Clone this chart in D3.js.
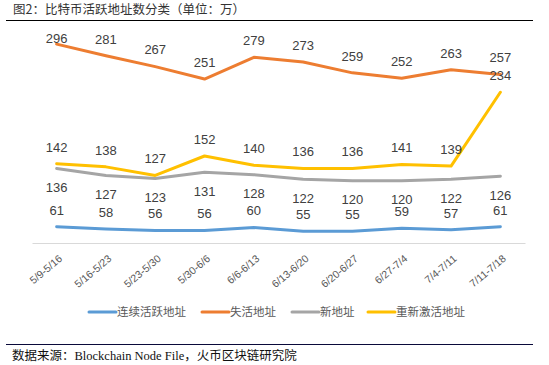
<!DOCTYPE html>
<html>
  <head>
    <meta charset="utf-8">
    <script src="https://cdn.jsdelivr.net/npm/d3@7"></script>
    <title>比特币活跃地址数分类</title>
    <style>
      body { margin: 0; background: #fff; }
      svg { display: block; }
    </style>
  </head>
  <body>
    <svg width="549" height="365" id="chart"></svg>
    <script>
      // data
      var weeks = ["5/9-5/16", "5/16-5/23", "5/23-5/30", "5/30-6/6", "6/6-6/13",
                   "6/13-6/20", "6/20-6/27", "6/27-7/4", "7/4-7/11", "7/11-7/18"];
      var seriesNames = ["连续活跃地址", "失活地址", "新地址", "重新激活地址"];
      var continuous = [61, 58, 56, 56, 60, 55, 55, 59, 57, 61];
      var inactive   = [296, 281, 267, 251, 279, 273, 259, 252, 263, 257];
      var newAddr    = [136, 127, 123, 131, 128, 122, 120, 120, 122, 126];
      var reactivated = [142, 138, 127, 152, 140, 136, 136, 141, 139, 234];
      var colors = ["#5B9BD5", "#ED7D31", "#A5A5A5", "#FFC000"];

      var series = [
        { name: seriesNames[0], values: continuous, color: colors[0], pos: "above" },
        { name: seriesNames[1], values: inactive, color: colors[1], pos: "above" },
        { name: seriesNames[2], values: newAddr, color: colors[2], pos: "below" },
        { name: seriesNames[3], values: reactivated, color: colors[3], pos: "above" }
      ];

      var svg = d3.select("#chart");

      // title + rules
      svg.append("text")
        .attr("x", 13).attr("y", 14)
        .attr("font-family", "'Noto Sans CJK SC', sans-serif")
        .attr("font-size", 12.5)
        .attr("fill", "#333")
        .text("图2：比特币活跃地址数分类（单位：万）");
      svg.append("line")
        .attr("x1", 6).attr("x2", 533).attr("y1", 20.5).attr("y2", 20.5)
        .attr("stroke", "#000").attr("stroke-width", 1.2);
      svg.append("line")
        .attr("x1", 6).attr("x2", 533).attr("y1", 344.5).attr("y2", 344.5)
        .attr("stroke", "#0a0a3a").attr("stroke-width", 1.2);
      svg.append("text")
        .attr("x", 12).attr("y", 360)
        .attr("font-family", "'Liberation Serif', 'Noto Sans CJK SC', serif")
        .attr("font-size", 12.5)
        .attr("fill", "#111")
        .text("数据来源：Blockchain Node File，火币区块链研究院");

      var x = d3.scaleBand().domain(weeks).range([32, 525]);
      var y = d3.scaleLinear().domain([40, 300]).range([243, 41]);
      var cx = function (d, i) { return x(weeks[i]) + x.bandwidth() / 2; };

      // x axis
      var xAxis = svg.append("g")
        .attr("transform", "translate(0,243)")
        .call(d3.axisBottom(x).tickSize(0).tickPadding(0));
      xAxis.select(".domain").attr("stroke", "#D9D9D9");
      xAxis.selectAll("text")
        .attr("font-family", "'Liberation Sans', Arial, sans-serif")
        .attr("font-size", 10.5)
        .attr("fill", "#595959")
        .attr("text-anchor", "end")
        .attr("transform", "translate(4,14) rotate(-40)")
        .attr("dy", "0.35em");

      var line = d3.line().x(cx).y(function (d) { return y(d); });

      series.forEach(function (s) {
        svg.append("path")
          .datum(s.values)
          .attr("fill", "none")
          .attr("stroke", s.color)
          .attr("stroke-width", 3)
          .attr("stroke-linejoin", "round")
          .attr("stroke-linecap", "round")
          .attr("d", line);
      });

      // data labels
      series.forEach(function (s) {
        svg.append("g").selectAll("text")
          .data(s.values)
          .enter().append("text")
          .attr("x", cx)
          .attr("y", function (d) {
            var yy = s.pos === "above" ? y(d) - 16.7 : y(d) + 19;
            return Math.max(yy, 38);
          })
          .attr("dy", "0.35em")
          .attr("text-anchor", "middle")
          .attr("font-family", "'Liberation Sans', Arial, sans-serif")
          .attr("font-size", 13)
          .attr("fill", "#404040")
          .text(function (d) { return d; });
      });

      // legend
      var legendX = [89, 202, 292, 368];
      var legend = svg.append("g").selectAll("g")
        .data(series)
        .enter().append("g")
        .attr("transform", function (d, i) { return "translate(" + legendX[i] + ",312)"; });
      legend.append("line")
        .attr("x1", 0).attr("x2", 27)
        .attr("stroke", function (d) { return d.color; })
        .attr("stroke-width", 3)
        .attr("stroke-linecap", "round");
      legend.append("text")
        .attr("x", 28).attr("dy", "0.35em")
        .attr("font-family", "'Noto Sans CJK SC', sans-serif")
        .attr("font-size", 11.5)
        .attr("fill", "#595959")
        .text(function (d) { return d.name; });
    </script>
  </body>
</html>
